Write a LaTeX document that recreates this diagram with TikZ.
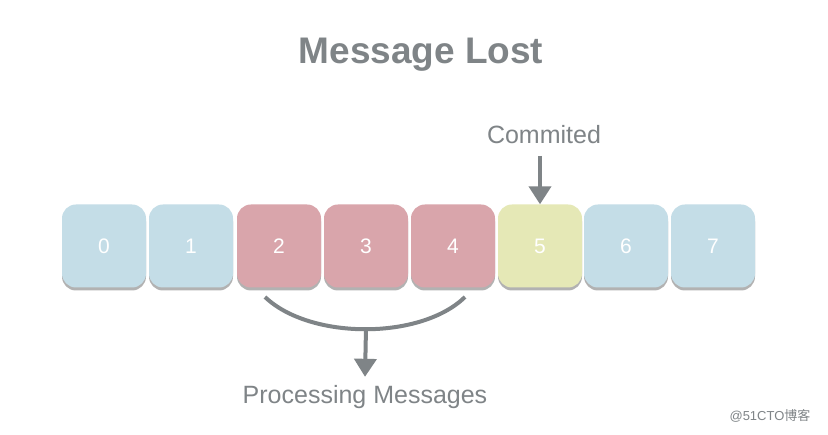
\documentclass[tikz,border=0pt]{standalone}
\usepackage{fontspec}
\setmainfont{Liberation Sans}
\newfontfamily\cjkfont{Noto Sans CJK SC}
\usetikzlibrary{arrows.meta,calc,shadows}

\definecolor{txtgray}{HTML}{7F8487}
\definecolor{offblue}{HTML}{C4DDE7}
\definecolor{offred}{HTML}{D9A5AB}
\definecolor{offyellow}{HTML}{E5E8B6}

\tikzset{
  slot/.style={rounded corners=14pt,minimum width=84pt,minimum height=83pt,
    text=white,font=\fontsize{21}{24}\selectfont,
    drop shadow={shadow xshift=0pt,shadow yshift=-3pt,fill=black!55,opacity=0.55}},
  pointer/.style={txtgray,line width=4pt,-{Triangle[width=22pt,length=18pt]}},
  label/.style={text=txtgray,font=\fontsize{25}{29}\selectfont}
}

\begin{document}
\begin{tikzpicture}[x=1pt,y=-1pt]
\useasboundingbox[fill=white] (0,0) rectangle (828,435);

% Title
\node[text=txtgray,font=\fontsize{37}{42}\selectfont\bfseries] (title) at (421,55) {Message Lost};

% Offsets
\foreach \i/\x/\c in {0/104/offblue,1/191/offblue,2/279/offred,3/366/offred,
                      4/453/offred,5/540/offyellow,6/626/offblue,7/713/offblue}{
  \node[slot,fill=\c] (box\i) at (\x,246) {\i};
}

% Commited pointer
\node[label] (commit) at (544,135) {Commited};
\coordinate (commitstart) at (540,156);
\draw[pointer] (commitstart) -- (box5.north);

% Processing range
\coordinate (braceL) at (265,297);
\coordinate (braceR) at (465,297);
\coordinate (braceM) at (366,328);
\draw[txtgray,line width=4pt] (braceL) .. controls (310,340) and (421,340) .. (braceR);
\node[label] (proc) at (365,397) {Processing Messages};
\draw[pointer] (braceM) -- ($(proc.north)+(0,-5)$);

% Watermark
\node[text=txtgray,font=\fontsize{13}{15}\selectfont] (mark) at (770,416) {@51CTO{\cjkfont 博客}};

\end{tikzpicture}
\end{document}
